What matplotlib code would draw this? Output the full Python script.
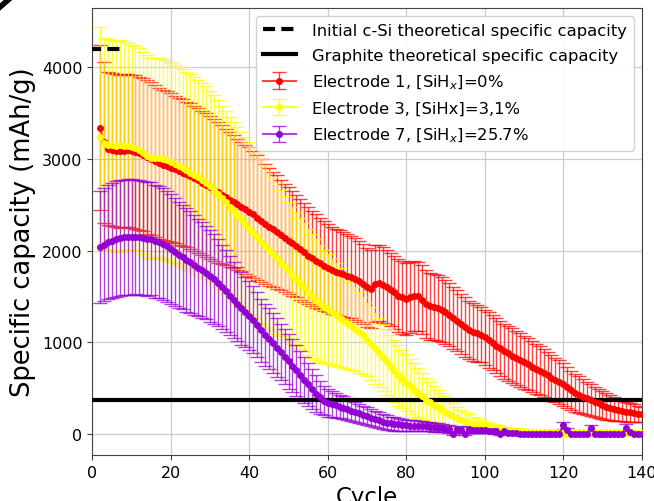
import numpy as np
import matplotlib
matplotlib.use("Agg")
import matplotlib.pyplot as plt
from matplotlib.lines import Line2D

cycles = np.arange(2, 141)

e1_mean = [3340, 3180, 3110, 3100, 3090, 3085, 3090, 3095, 3085, 3075,
           3060, 3045, 3020, 3000, 2975, 2950, 2935, 2920, 2905, 2885,
           2865, 2850, 2830, 2810, 2790, 2765, 2740, 2715, 2690, 2660,
           2635, 2610, 2585, 2555, 2530, 2505, 2480, 2450, 2425, 2395,
           2360, 2325, 2290, 2260, 2230, 2200, 2170, 2140, 2110, 2080,
           2050, 2015, 1980, 1945, 1915, 1885, 1860, 1830, 1805, 1785,
           1770, 1755, 1740, 1725, 1710, 1690, 1665, 1640, 1600, 1585,
           1640, 1645, 1625, 1600, 1575, 1545, 1510, 1490, 1475, 1490,
           1505, 1500, 1465, 1420, 1395, 1385, 1375, 1355, 1330, 1300,
           1265, 1235, 1200, 1165, 1135, 1115, 1100, 1085, 1055, 1025,
           995, 965, 935, 900, 880, 855, 830, 805, 780, 760,
           735, 710, 690, 665, 640, 615, 590, 565, 540, 510,
           475, 452, 430, 408, 388, 368, 350, 333, 315, 300,
           287, 275, 262, 252, 243, 235, 228, 220, 213]
e1_std = [900, 880, 835, 835, 835, 835, 835, 835, 835, 835,
          835, 835, 835, 835, 830, 825, 820, 815, 810, 805,
          800, 800, 795, 795, 790, 790, 785, 780, 780, 775,
          765, 755, 745, 735, 725, 715, 705, 700, 700, 690,
          680, 670, 655, 645, 630, 620, 605, 590, 580, 570,
          560, 550, 540, 530, 520, 510, 500, 490, 480, 475,
          470, 465, 460, 455, 450, 445, 440, 435, 430, 425,
          420, 415, 410, 405, 400, 400, 395, 395, 390, 385,
          380, 380, 375, 370, 365, 365, 360, 355, 350, 345,
          340, 335, 330, 325, 320, 315, 310, 305, 300, 300,
          300, 300, 300, 300, 298, 296, 294, 292, 290, 285,
          280, 275, 270, 265, 258, 250, 244, 237, 230, 222,
          215, 207, 199, 190, 182, 174, 166, 158, 150, 143,
          136, 129, 122, 115, 108, 101, 95, 90, 85]

e3_mean = [3240, 3170, 3155, 3150, 3140, 3150, 3145, 3135, 3125, 3120,
           3100, 3065, 3030, 3005, 3010, 3015, 3000, 2985, 2965, 2945,
           2925, 2900, 2875, 2850, 2825, 2800, 2770, 2740, 2705, 2665,
           2620, 2575, 2525, 2475, 2430, 2385, 2340, 2290, 2240, 2195,
           2145, 2095, 2050, 2005, 1960, 1915, 1865, 1820, 1775, 1730,
           1690, 1645, 1600, 1550, 1505, 1465, 1425, 1390, 1360, 1330,
           1300, 1270, 1240, 1210, 1180, 1145, 1110, 1075, 1030, 985,
           935, 885, 835, 785, 735, 685, 640, 600, 560, 520,
           480, 445, 410, 375, 345, 315, 290, 265, 240, 215,
           195, 175, 155, 140, 125, 110, 100, 90, 80, 72,
           64, 57, 50, 44, 40, 36, 32, 30, 28, 26,
           25, 25, 24, 24, 23, 23, 22, 22, 10, 5,
           20, 21, 21, 20, 20, 19, 19, 18, 18, 18,
           17, 17, 17, 16, 16, 16, 15, 15, 15]
e3_std = [1200, 1150, 1150, 1150, 1150, 1150, 1140, 1130, 1120, 1110,
          1105, 1100, 1100, 1095, 1095, 1090, 1090, 1085, 1085, 1080,
          1080, 1080, 1075, 1075, 1070, 1065, 1060, 1050, 1040, 1030,
          1020, 1005, 995, 985, 975, 965, 955, 950, 945, 935,
          920, 900, 880, 860, 840, 820, 800, 780, 760, 745,
          730, 715, 700, 690, 675, 660, 640, 620, 600, 580,
          560, 540, 520, 500, 480, 460, 440, 420, 400, 395,
          385, 375, 365, 355, 345, 340, 330, 320, 310, 300,
          290, 275, 260, 240, 225, 210, 195, 180, 170, 155,
          140, 125, 110, 100, 90, 80, 70, 62, 55, 50,
          45, 40, 36, 32, 30, 28, 26, 25, 24, 23,
          22, 22, 21, 21, 20, 20, 20, 20, 25, 20,
          19, 19, 18, 18, 18, 17, 17, 17, 16, 16,
          16, 15, 15, 15, 15, 14, 14, 14, 14]

e7_mean = [2036, 2065, 2090, 2110, 2127, 2140, 2145, 2148, 2150, 2148,
           2145, 2140, 2130, 2130, 2100, 2090, 2075, 2045, 2015, 1985,
           1955, 1930, 1900, 1872, 1845, 1815, 1790, 1760, 1725, 1690,
           1650, 1605, 1560, 1510, 1460, 1415, 1370, 1330, 1290, 1245,
           1190, 1130, 1080, 1040, 990, 940, 895, 845, 795, 745,
           695, 645, 590, 540, 490, 440, 400, 365, 340, 325,
           315, 300, 285, 270, 255, 240, 225, 210, 195, 180,
           165, 150, 135, 125, 115, 110, 105, 100, 95, 92,
           90, 88, 85, 82, 78, 75, 70, 65, 60, 55,
           0, 50, 45, 0, 50, 48, 45, 42, 40, 38,
           35, 30, 0, 28, 10, 8, 6, 5, 5, 4,
           4, 3, 3, 3, 2, 2, 2, 2, 95, 40,
           5, 3, 3, 3, 3, 65, 5, 3, 3, 3,
           3, 3, 3, 3, 70, 20, 3, 3, 3]
e7_std = [610, 615, 620, 625, 630, 630, 630, 630, 630, 625,
          625, 620, 620, 615, 615, 610, 610, 605, 600, 590,
          580, 570, 565, 555, 545, 530, 520, 510, 500, 490,
          475, 460, 445, 430, 415, 405, 395, 385, 375, 365,
          355, 345, 340, 335, 330, 320, 310, 305, 300, 290,
          280, 265, 250, 235, 220, 200, 180, 160, 150, 140,
          135, 130, 125, 120, 115, 110, 105, 100, 100, 95,
          90, 85, 80, 78, 75, 72, 70, 66, 62, 60,
          58, 56, 54, 52, 50, 48, 46, 44, 42, 40,
          10, 35, 35, 10, 35, 34, 33, 32, 30, 30,
          28, 26, 10, 25, 15, 12, 10, 10, 10, 10,
          10, 10, 10, 10, 10, 10, 10, 10, 40, 25,
          10, 10, 10, 10, 10, 35, 10, 10, 10, 10,
          10, 10, 10, 10, 35, 15, 10, 10, 10]

csi_capacity = 4200
graphite_capacity = 372

labels = ["Initial c-Si theoretical specific capacity",
          "Graphite theoretical specific capacity",
          r"Electrode 1, [SiH$_x$]=0%",
          "Electrode 3, [SiHx]=3,1%",
          r"Electrode 7, [SiH$_x$]=25.7%"]
colors = ["red", "yellow", "darkviolet"]

fig = plt.figure(figsize=(6.54, 5.02), dpi=100)
ax = fig.add_axes([0.1411, 0.0916, 0.8401, 0.8899])

ax.plot([-0.8, 7.5], [csi_capacity, csi_capacity], color="black", lw=3,
        dashes=(2.9, 1.5), label=labels[0], zorder=4)
ax.plot([0, 140], [graphite_capacity, graphite_capacity], color="black", lw=3,
        label=labels[1], zorder=2.6)

for mean, std, col, lab in [(e1_mean, e1_std, colors[0], labels[2]),
                             (e3_mean, e3_std, colors[1], labels[3]),
                             (e7_mean, e7_std, colors[2], labels[4])]:
    rgba = matplotlib.colors.to_rgba(col, 0.75)
    cont = ax.errorbar(cycles, mean, yerr=std, fmt="o-", color=rgba,
                       mfc=col, mec=col, markersize=4, lw=1.5,
                       ecolor=rgba, elinewidth=1.0, capsize=5, capthick=1.0,
                       label=lab)
    cont[0].set_zorder(3)
    for c in cont[1]:
        c.set_zorder(2.5)
    for c in cont[2]:
        c.set_zorder(2.5)

ax.set_xlim(0, 140)
ax.set_ylim(-229, 4642)
ax.set_xticks([0, 20, 40, 60, 80, 100, 120, 140])
ax.set_yticks([0, 1000, 2000, 3000, 4000])
ax.grid(True, color="#cccccc", lw=0.9)
ax.set_axisbelow(True)
ax.tick_params(labelsize=11.5, color="#444444")
for s in ax.spines.values():
    s.set_color("#444444")
ax.set_xlabel("Cycle", fontsize=16.5)
ax.set_ylabel("Specific capacity (mAh/g)", fontsize=18.5)

leg = ax.legend(loc="upper right", fontsize=11.8, framealpha=0.9,
                handlelength=2.0, handletextpad=1.0, labelspacing=0.6)
leg.set_zorder(10)

# corner artifact from the original image
fig.add_artist(Line2D([0, 0.014], [0.984, 1.0], transform=fig.transFigure,
                      color="black", lw=4))

fig.savefig("out.png", dpi=100)
